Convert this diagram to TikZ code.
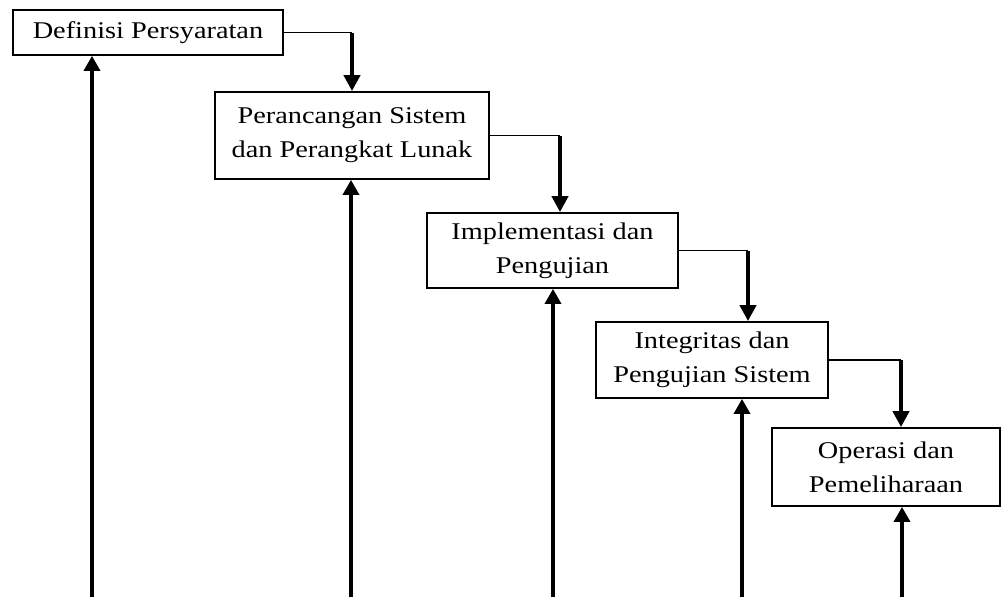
\documentclass[tikz,border=0pt]{standalone}
\usepackage{fontspec}
\setmainfont{Liberation Serif}[FakeStretch=1.18]
\usetikzlibrary{arrows.meta,calc}
\begin{document}
\begin{tikzpicture}[x=1pt,y=-1pt,
  box/.style={draw,line width=1.8pt,rectangle,inner sep=0pt,align=center,font=\fontsize{24}{34}\selectfont},
  thinline/.style={line width=1.8pt},
  downarrow/.style={line width=4pt,-{Triangle[width=16pt,length=16pt]}},
  uparrow/.style={line width=3.4pt,-{Triangle[width=16pt,length=15pt]}}]
\useasboundingbox (0,0) rectangle (1002,597);
\node[box,minimum width=270pt,minimum height=45pt] (b1) at (148,32.5) {Definisi Persyaratan};
\node[box,minimum width=274pt,minimum height=87pt] (b2) at (352,135.5) {Perancangan Sistem\\dan Perangkat Lunak};
\node[box,minimum width=251pt,minimum height=75pt] (b3) at (552.5,250.5) {Implementasi dan\\Pengujian};
\node[box,minimum width=232pt,minimum height=76pt] (b4) at (712,360) {Integritas dan\\Pengujian Sistem};
\node[box,minimum width=228pt,minimum height=78pt] (b5) at (886,467) {Operasi dan\\Pemeliharaan};
% forward connectors
\coordinate (c1) at (352,32.5);
\coordinate (c2) at (560,135.5);
\coordinate (c3) at (748,250.5);
\coordinate (c4) at (901,360);
\draw[thinline] (b1.east) -- (c1);
\draw[downarrow] (c1) -- (c1 |- b2.north);
\draw[thinline] (b2.east) -- (c2);
\draw[downarrow] (c2) -- (c2 |- b3.north);
\draw[thinline] (b3.east) -- (c3);
\draw[downarrow] (c3) -- (c3 |- b4.north);
\draw[thinline] (b4.east) -- (c4);
\draw[downarrow] (c4) -- (c4 |- b5.north);
% feedback verticals
\coordinate (u1) at (92,597);
\coordinate (u2) at (351,597);
\coordinate (u3) at (553,597);
\coordinate (u4) at (742,597);
\coordinate (u5) at (902,597);
\draw[uparrow] (u1) -- (u1 |- b1.south);
\draw[uparrow] (u2) -- (u2 |- b2.south);
\draw[uparrow] (u3) -- (u3 |- b3.south);
\draw[uparrow] (u4) -- (u4 |- b4.south);
\draw[uparrow] (u5) -- (u5 |- b5.south);
\end{tikzpicture}
\end{document}
